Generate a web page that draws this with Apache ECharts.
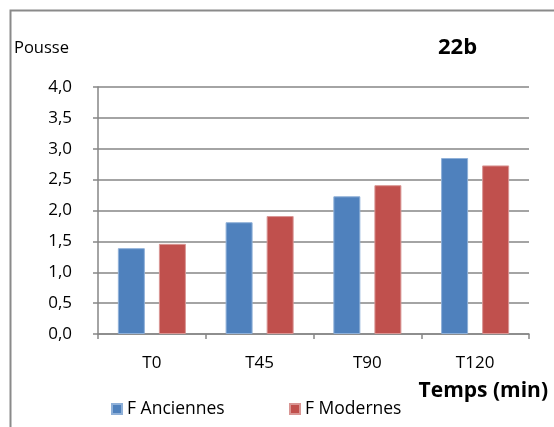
<!DOCTYPE html>
<html><head><meta charset="utf-8">
<script src="https://cdn.jsdelivr.net/npm/echarts@6/dist/echarts.min.js"></script>
<style>html,body{margin:0;padding:0;background:#fff}#c{width:554px;height:427px}</style>
</head><body><div id="c"></div>
<script>
const categories = ['T0', 'T45', 'T90', 'T120'];
const anciennes = [1.39, 1.81, 2.23, 2.85];
const modernes = [1.46, 1.91, 2.41, 2.73];
const seriesNames = ['F Anciennes', 'F Modernes'];
const chart = echarts.init(document.getElementById('c'));
const font = '"Open Sans", "Liberation Sans", sans-serif';
chart.setOption({
  animation: false,
  backgroundColor: '#fff',
  textStyle: { fontFamily: font, color: '#000' },
  title: { text: '22b', left: 433, top: 32, textStyle: { fontFamily: font, fontSize: 22, fontWeight: 'bold', color: '#000' } },
  graphic: [
    { type: 'rect', shape: { x: 10.5, y: 10.5, width: 600, height: 500 }, style: { fill: null, stroke: '#8a8a8a', lineWidth: 2 }, z: -1 },
    { type: 'text', left: 14, top: 40, style: { text: 'Pousse', font: '16.5px "Open Sans", sans-serif', fill: '#000' } },
    { type: 'text', right: 6, top: 381, style: { text: 'Temps (min)', font: 'bold 21px "Open Sans", sans-serif', fill: '#000' } }
  ],
  legend: [
    { left: 106, top: 395, itemWidth: 10, itemHeight: 10, itemGap: 5, icon: 'rect',
      textStyle: { fontFamily: font, fontSize: 17.5, color: '#000' }, data: [seriesNames[0]] },
    { left: 284, top: 395, itemWidth: 10, itemHeight: 10, itemGap: 5, icon: 'rect',
      textStyle: { fontFamily: font, fontSize: 17.5, color: '#000' }, data: [seriesNames[1]] }
  ],
  grid: { left: 98, right: 25, top: 87, bottom: 93, containLabel: false },
  xAxis: {
    type: 'category', data: categories,
    axisLine: { lineStyle: { color: '#868686', width: 1.5 } },
    axisTick: { show: true, length: 5, lineStyle: { color: '#868686', width: 1.5 } },
    axisLabel: { fontSize: 17, color: '#000', margin: 21, fontFamily: font }
  },
  yAxis: {
    type: 'value', min: 0, max: 4, interval: 0.5,
    axisLine: { show: true, lineStyle: { color: '#868686', width: 1.5 } },
    axisTick: { show: true, length: 5, lineStyle: { color: '#868686', width: 1.5 } },
    splitLine: { lineStyle: { color: '#868686', width: 1.5 } },
    axisLabel: { fontSize: 17, color: '#000', margin: 26, fontFamily: font, formatter: v => v.toFixed(1).replace('.', ',') }
  },
  series: [
    { name: seriesNames[0], type: 'bar', data: anciennes, barWidth: 27, barGap: '52%', itemStyle: { color: '#4F81BD', borderColor: '#8fb0d8', borderWidth: 1 } },
    { name: seriesNames[1], type: 'bar', data: modernes, barWidth: 27, itemStyle: { color: '#C0504D', borderColor: '#d99694', borderWidth: 1 } }
  ]
});
</script></body></html>
